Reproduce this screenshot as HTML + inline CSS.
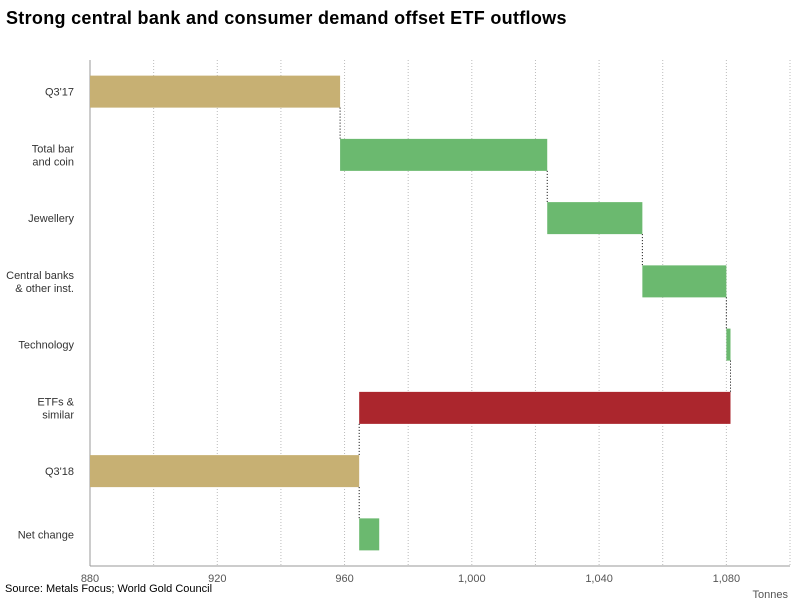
<!DOCTYPE html>
<html><head><meta charset="utf-8"><style>
body{margin:0;background:#fff;font-family:"Liberation Sans",sans-serif;}
</style></head><body>
<svg id="c" width="800" height="600" xmlns="http://www.w3.org/2000/svg">
<text x="6" y="24" font-size="18" font-weight="bold" fill="#000" letter-spacing="0.3">Strong central bank and consumer demand offset ETF outflows</text>
<g id="grid"></g><g id="bars"></g><g id="labels"></g>
<text x="5" y="592" font-size="11" fill="#000">Source: Metals Focus; World Gold Council</text>
<text x="788" y="598" font-size="11" fill="#555" text-anchor="end">Tonnes</text>
</svg>
<script>
const categories=[["Q3'17"],["Total bar","and coin"],["Jewellery"],["Central banks","& other inst."],["Technology"],["ETFs &","similar"],["Q3'18"],["Net change"]];
const starts=[880,958.6,1023.7,1053.6,1080,1081.3,880,964.6];
const ends=[958.6,1023.7,1053.6,1080,1081.3,964.6,964.6,970.9];
const kinds=["total","up","up","up","up","down","total","up"];
const ticks=[880,920,960,1000,1040,1080];
const ticksLabels=["880","920","960","1,000","1,040","1,080"];
const NS="http://www.w3.org/2000/svg";
const x=v=>90+(v-880)*(700/220);
const rowTop=60,rowH=63.25;
const y=i=>rowTop+rowH*i+rowH/2;
const colors={total:"#c7b073",up:"#6bb96f",down:"#ab262d"};
function mk(t,a,p){const e=document.createElementNS(NS,t);for(const k in a)e.setAttribute(k,a[k]);document.getElementById(p).appendChild(e);return e;}
for(let v=900;v<=1100;v+=20){const l=mk("line",{x1:x(v),x2:x(v),y1:60,y2:566,stroke:"#bbb","stroke-dasharray":"1,2"},"grid");

}
const ax=mk("line",{x1:90,x2:90,y1:60,y2:566,stroke:"#999"},"grid");


const bx=mk("line",{x1:90,x2:790,y1:566,y2:566,stroke:"#999"},"grid");


ticks.forEach((t,i)=>{const e=mk("text",{x:x(t),y:582,"font-size":11,fill:"#555","text-anchor":"middle"},"labels");e.textContent=ticksLabels[i];

});
categories.forEach((c,i)=>{
const a=Math.min(starts[i],ends[i]),b=Math.max(starts[i],ends[i]);
const r=mk("rect",{x:x(a),y:y(i)-16,width:Math.max(x(b)-x(a),1),height:32,fill:colors[kinds[i]]},"bars");


if(i<categories.length-1){const n=ends[i];const cl=mk("line",{x1:x(n),x2:x(n),y1:y(i)+16,y2:y(i+1)-16,stroke:"#000","stroke-dasharray":"1,2"},"bars");

}
const off=(c.length-1)*6.5;
c.forEach((s,j)=>{const e=mk("text",{x:74,y:y(i)+4-off+j*13,"font-size":11,fill:"#333","text-anchor":"end"},"labels");e.textContent=s;

});
});
</script>
</body></html>
